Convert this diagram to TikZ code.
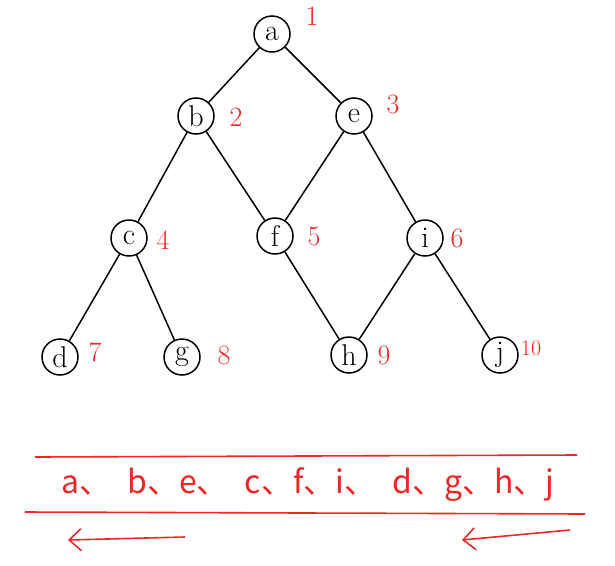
\documentclass[tikz,border=0pt]{standalone}
\usepackage{fontspec}
\newfontfamily\cjk{Noto Sans CJK SC}
\usetikzlibrary{arrows.meta}
\definecolor{pen}{RGB}{235,40,40}
\tikzset{
  vert/.style={circle,draw=black,line width=1.5pt,minimum size=36pt,inner sep=0pt,font=\fontsize{30}{30}\selectfont},
  edge/.style={line width=1.5pt,black},
  num/.style={text=pen,font=\fontsize{28}{28}\selectfont},
  redline/.style={draw=pen,line width=1.6pt},
  redarrow/.style={draw=pen,line width=1.6pt,-{Straight Barb[length=12pt,width=22pt]}}
}
\begin{document}
\begin{tikzpicture}[x=1pt,y=-1pt]
\useasboundingbox (0,0) rectangle (615,565);
\node[vert] (a) at (272,34) {a};
\node[vert] (b) at (196,116) {b};
\node[vert] (e) at (354,116) {e};
\node[vert] (c) at (129,238) {c};
\node[vert] (f) at (275,236) {f};
\node[vert] (i) at (425,238) {i};
\node[vert] (d) at (60,357) {d};
\node[vert] (g) at (182,357) {g};
\node[vert] (h) at (349,355) {h};
\node[vert] (j) at (500,355) {j};
\draw[edge] (a) -- (b);
\draw[edge] (a) -- (e);
\draw[edge] (b) -- (c);
\draw[edge] (b) -- (f);
\draw[edge] (e) -- (f);
\draw[edge] (e) -- (i);
\draw[edge] (c) -- (d);
\draw[edge] (c) -- (g);
\draw[edge] (f) -- (h);
\draw[edge] (i) -- (h);
\draw[edge] (i) -- (j);
\node[num] (n1) at (312,16) {1};
\node[num] (n2) at (236,117) {2};
\node[num] (n3) at (393,104) {3};
\node[num] (n4) at (163,240) {4};
\node[num] (n5) at (314,236) {5};
\node[num] (n6) at (457,238) {6};
\node[num] (n7) at (95,352) {7};
\node[num] (n8) at (224,355) {8};
\node[num] (n9) at (384,355) {9};
\node[num,font=\fontsize{22}{22}\selectfont] (n10) at (531,348) {10};
\coordinate (t1) at (35,457);
\coordinate (t2) at (577,455);
\coordinate (b1) at (25,512);
\coordinate (b2) at (585,514);
\draw[redline] (t1) -- (t2);
\draw[redline] (b1) -- (b2);
\node[text=pen,font=\cjk\fontsize{32}{32}\selectfont] (seq) at (308,485) {a、\enspace b、e、\enspace c、f、i、\enspace d、g、h、j};
\coordinate (l1) at (185,537);
\coordinate (l2) at (68,540);
\coordinate (r1) at (570,530);
\coordinate (r2) at (462,540);
\draw[redarrow] (l1) -- (l2);
\draw[redarrow] (r1) -- (r2);
\end{tikzpicture}
\end{document}
